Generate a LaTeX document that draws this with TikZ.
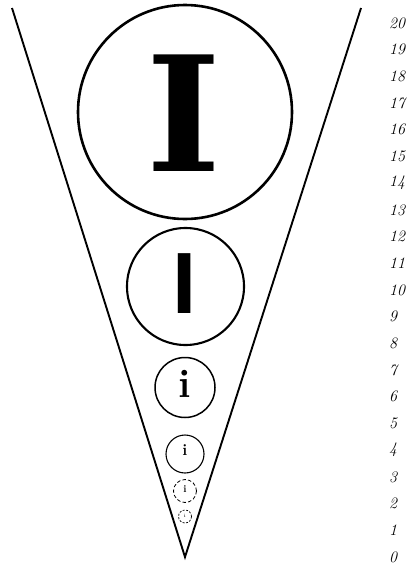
\documentclass[tikz,border=0pt]{standalone}
\usepackage{fontspec}
\newfontfamily\heavyserif{DejaVu Serif}
\newfontfamily\plainsans{Liberation Sans}
\begin{document}
\begin{tikzpicture}[x=1pt,y=-1pt,
  ring/.style={draw=black,circle,inner sep=0pt},
  glyph/.style={inner sep=0pt,outer sep=0pt},
  level/.style={inner sep=0pt,anchor=west,font=\itshape\fontsize{16}{16}\selectfont}]
\useasboundingbox (0,0) rectangle (412,565);
% funnel
\coordinate (tl) at (12,8);
\coordinate (tr) at (361,8);
\coordinate (apex) at (185,557);
\draw[line width=1.9pt,line join=miter] (tl) -- (apex) -- (tr);
% circles
\node[ring,line width=2.6pt,minimum size=214pt] (c5) at (185,112) {};
\node[ring,line width=2.1pt,minimum size=117pt] (c4) at (185.5,286.5) {};
\node[ring,line width=1.5pt,minimum size=60pt] (c3) at (185,387.5) {};
\node[ring,line width=1.1pt,minimum size=38pt] (c2) at (185,454) {};
\node[ring,line width=0.8pt,dash pattern=on 3.5pt off 2.2pt,minimum size=23pt] (c1) at (185,491) {};
\node[ring,line width=0.7pt,dash pattern=on 2pt off 1.5pt,minimum size=13pt] (c0) at (185,516.5) {};
% glyphs
\node[glyph,font=\heavyserif\bfseries\fontsize{160}{160}\selectfont] (g5) at (184,113.5) {I};
\node[glyph,font=\plainsans\bfseries\fontsize{87}{87}\selectfont] (g4) at (184.5,284) {I};
\node[glyph,font=\bfseries\fontsize{40}{40}\selectfont] (g3) at (185,384) {i};
\node[glyph,font=\bfseries\fontsize{16}{16}\selectfont] (g2) at (185,450) {i};
\node[glyph,font=\bfseries\fontsize{10}{10}\selectfont] (g1) at (185,489) {i};
\node[glyph,font=\fontsize{5}{5}\selectfont] (g0) at (185,516) {i};
% scale
\foreach \k in {0,...,20} {
  \node[level] (n\k) at (389,{557-26.7*\k}) {\k};
}
\end{tikzpicture}
\end{document}
